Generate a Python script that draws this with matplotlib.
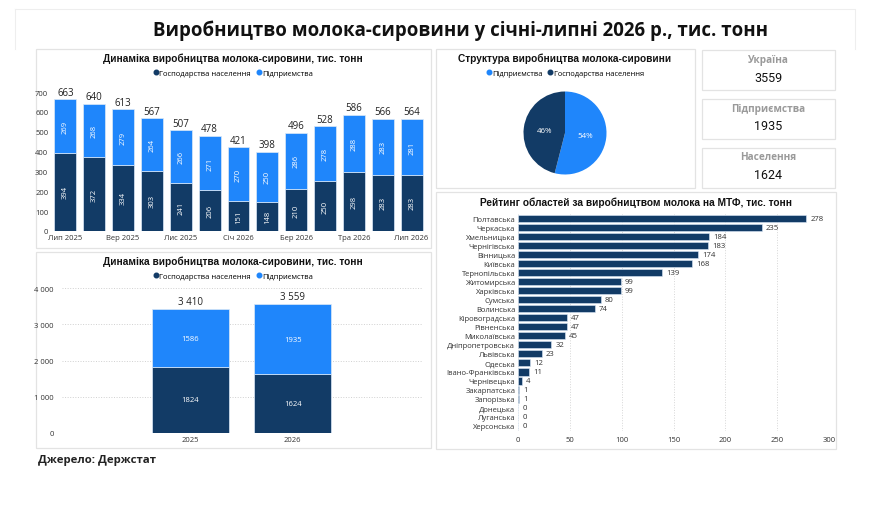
import numpy as np
import matplotlib
matplotlib.use("Agg")
import matplotlib.pyplot as plt
from matplotlib.patches import Rectangle
from matplotlib.lines import Line2D

plt.rcParams['font.family'] = ['Open Sans', 'DejaVu Sans']

# ---- data ----
months = ["Лип 2025", "Сер 2025", "Вер 2025", "Жов 2025", "Лис 2025", "Гру 2025",
          "Січ 2026", "Лют 2026", "Бер 2026", "Кві 2026", "Тра 2026", "Чер 2026", "Лип 2026"]
households_m = [394, 372, 334, 303, 241, 206, 151, 148, 210, 250, 298, 283, 283]
enterprises_m = [269, 268, 279, 264, 266, 271, 270, 250, 286, 278, 288, 283, 281]
totals_m = [663, 640, 613, 567, 507, 478, 421, 398, 496, 528, 586, 566, 564]

years = ["2025", "2026"]
households_y = [1824, 1624]
enterprises_y = [1586, 1935]
totals_y = [3410, 3559]

pie_labels = ["Підприємства", "Господарства населення"]
pie_values = [54, 46]

kpi_names = ["Україна", "Підприємства", "Населення"]
kpi_values = ["3559", "1935", "1624"]

regions = ["Полтавська", "Черкаська", "Хмельницька", "Чернігівська", "Вінницька", "Київська",
           "Тернопільська", "Житомирська", "Харківська", "Сумська", "Волинська", "Кіровоградська",
           "Рівненська", "Миколаївська", "Дніпропетровська", "Львівська", "Одеська",
           "Івано-Франківська", "Чернівецька", "Закарпатська", "Запорізька", "Донецька",
           "Луганська", "Херсонська"]
region_values = [278, 235, 184, 183, 174, 168, 139, 99, 99, 80, 74, 47, 47, 45, 32, 23, 12, 11,
                 4, 1, 1, 0, 0, 0]

DARK = "#123b66"
LIGHT = "#1f86fb"
W, H = 871, 510
TITLE_FONT = ["Liberation Sans", "DejaVu Sans"]

fig = plt.figure(figsize=(W / 100, H / 100), dpi=100)
fig.patch.set_facecolor("white")

# background layer in pixel coordinates
bg = fig.add_axes([0, 0, 1, 1])
bg.set_xlim(0, W)
bg.set_ylim(H, 0)
bg.axis("off")


def box(x0, y0, x1, y1, ec="#e3e3e3"):
    bg.add_patch(Rectangle((x0, y0), x1 - x0, y1 - y0, fill=False, ec=ec, lw=0.9))


def ax_at(x0, y0, x1, y1):
    a = fig.add_axes([x0 / W, 1 - y1 / H, (x1 - x0) / W, (y1 - y0) / H])
    a.set_facecolor("none")
    return a


def legend_at(ax, x, y, labels, colors, size=5.5):
    handles = [Line2D([], [], ls="", marker="o", ms=3.3, color=c) for c in colors]
    ax.legend(handles, labels, loc="center", bbox_to_anchor=(x / W, 1 - y / H),
              bbox_transform=fig.transFigure, ncol=len(labels), frameon=False,
              fontsize=size, handletextpad=0.05, columnspacing=0.6, handlelength=0.8)


# frame and main title
bg.plot([15, 855, 855], [10, 10, 50], color="#eeeeee", lw=0.8)
bg.plot([15, 15], [10, 50], color="#eeeeee", lw=0.8)
bg.text(460, 31, "Виробництво молока-сировини у січні-липні 2026 р., тис. тонн",
        ha="center", va="center", fontsize=13.4, fontweight="bold", color="#111111")

# panel borders
box(36, 50, 431, 249)
box(36, 253, 431, 449)
box(436, 50, 695, 189)
box(436, 193, 836, 450)

# ---- monthly stacked bars ----
ax1 = ax_at(51, 93, 426, 232)
x = np.arange(len(months))
ax1.bar(x, households_m, width=0.76, color=DARK, edgecolor="#dce9f7", lw=0.5)
ax1.bar(x, enterprises_m, width=0.76, bottom=households_m, color=LIGHT, edgecolor="#dce9f7", lw=0.5)
for i in range(len(months)):
    ax1.text(i, households_m[i] / 2, str(households_m[i]), rotation=90, ha="center",
             va="center", color="white", fontsize=5.5)
    ax1.text(i, households_m[i] + enterprises_m[i] / 2, str(enterprises_m[i]), rotation=90,
             ha="center", va="center", color="white", fontsize=5.5)
    ax1.text(i, totals_m[i] + 8, str(totals_m[i]), ha="center", va="bottom",
             fontsize=7, color="#222222", clip_on=False)
ax1.set_xlim(-0.5, len(months) - 0.5)
ax1.set_ylim(0, 700)
ax1.set_yticks(range(0, 701, 100))
ax1.set_xticks(x[::2])
ax1.set_xticklabels(months[::2])
ax1.tick_params(length=0, labelsize=5.5, colors="#333333", pad=2)
for s in ax1.spines.values():
    s.set_visible(False)
bg.text(233, 59, "Динаміка виробництва молока-сировини, тис. тонн", ha="center",
        va="center", fontsize=7.3, fontweight="bold", color="#111111", family=TITLE_FONT)
legend_at(ax1, 233, 74, ["Господарства населення", "Підприємства"], [DARK, LIGHT])

# ---- yearly stacked bars ----
ax2 = ax_at(62, 289, 423, 434)
xy = np.arange(len(years))
ax2.bar(xy, households_y, width=0.75, color=DARK, edgecolor="#dce9f7", lw=0.5, zorder=2)
ax2.bar(xy, enterprises_y, width=0.75, bottom=households_y, color=LIGHT, edgecolor="#dce9f7",
        lw=0.5, zorder=2)
for i in range(len(years)):
    ax2.text(i, households_y[i] / 2, str(households_y[i]), ha="center", va="center",
             color="white", fontsize=5.5, zorder=3)
    ax2.text(i, households_y[i] + enterprises_y[i] / 2, str(enterprises_y[i]), ha="center",
             va="center", color="white", fontsize=5.5, zorder=3)
    ax2.text(i, totals_y[i] + 60, f"{totals_y[i]:,}".replace(",", " "), ha="center",
             va="bottom", fontsize=7, color="#222222")
ax2.set_xlim(-1.25, 2.27)
ax2.set_ylim(0, 4000)
ax2.set_yticks(range(0, 4001, 1000))
ax2.set_yticklabels([f"{v:,}".replace(",", " ") for v in range(0, 4001, 1000)])
ax2.set_xticks(xy)
ax2.set_xticklabels(years)
ax2.grid(axis="y", ls=":", color="#d0d0d0", lw=0.7, zorder=0)
ax2.tick_params(length=0, labelsize=5.5, colors="#333333", pad=2)
ax2.tick_params(axis="y", pad=6)
for s in ax2.spines.values():
    s.set_visible(False)
bg.text(233, 262, "Динаміка виробництва молока-сировини, тис. тонн", ha="center",
        va="center", fontsize=7.3, fontweight="bold", color="#111111", family=TITLE_FONT)
legend_at(ax2, 233, 277, ["Господарства населення", "Підприємства"], [DARK, LIGHT])

# ---- pie ----
axp = ax_at(565 - 41.5, 134 - 41.5, 565 + 41.5, 134 + 41.5)
wedges, _, autotexts = axp.pie(pie_values, colors=[LIGHT, DARK], startangle=90,
                               counterclock=False, autopct="%d%%", pctdistance=0.5,
                               textprops=dict(color="white", fontsize=5.8))
axp.set_xlim(-1, 1)
axp.set_ylim(-1, 1)
axp.set_aspect("equal")
bg.text(565, 59, "Структура виробництва молока-сировини", ha="center", va="center",
        fontsize=7.3, fontweight="bold", color="#111111", family=TITLE_FONT)
legend_at(axp, 565, 74, pie_labels, [LIGHT, DARK], size=5.4)

# ---- KPI cards ----
card_tops = [51, 100, 149]
for name, val, top in zip(kpi_names, kpi_values, card_tops):
    box(702, top, 835, top + 40)
    bg.text(768, top + 9, name, ha="center", va="center", fontsize=7.2,
            fontweight="bold", color="#9a9a9a")
    bg.text(768, top + 27, val, ha="center", va="center", fontsize=9, color="#111111",
            family=["Roboto", "DejaVu Sans"])

# ---- region ranking ----
axr = ax_at(518, 215, 829, 431.5)
yr = np.arange(len(regions))
axr.barh(yr, region_values, height=0.81, color=DARK, edgecolor="#dce9f7", lw=0.4, zorder=2)
for i, v in enumerate(region_values):
    axr.text(v + 4, i, str(v), va="center", ha="left", fontsize=5.6, color="#333333")
axr.set_ylim(len(regions) - 0.5, -0.5)
axr.set_xlim(0, 300)
axr.set_yticks(yr)
axr.set_yticklabels(regions)
axr.set_xticks(range(0, 301, 50))
axr.grid(axis="x", ls=":", color="#d6d6d6", lw=0.7, zorder=0)
axr.tick_params(length=0, labelsize=5.5, colors="#333333", pad=2)
axr.tick_params(axis="x", labelsize=5.5, pad=4)
for s in axr.spines.values():
    s.set_visible(False)
bg.text(636, 203, "Рейтинг областей за виробництвом молока на МТФ, тис. тонн", ha="center",
        va="center", fontsize=7.3, fontweight="bold", color="#111111", family=TITLE_FONT)

# source
bg.text(38, 461, "Джерело: Держстат", ha="left", va="center", fontsize=8.2,
        fontweight="bold", color="#222222")

fig.savefig("out.png", dpi=100)
